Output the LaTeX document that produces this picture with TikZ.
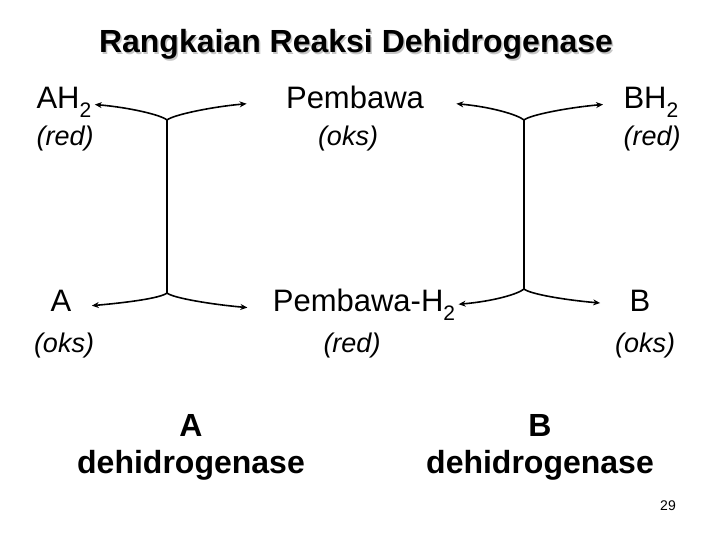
\documentclass[tikz,border=0pt]{standalone}
\usepackage{fontspec}
\setmainfont{Liberation Sans}
\usepackage{tikz}
\usetikzlibrary{arrows.meta}

\newcommand{\lowtwo}{\raisebox{-9bp}{\fontsize{21bp}{21bp}\selectfont 2}}

\begin{document}
\begin{tikzpicture}[
  x=1bp, y=-1bp,
  font=\fontsize{31bp}{36bp}\selectfont,
  chem/.style={anchor=base},
  redoks/.style={anchor=base, font=\fontsize{27bp}{32bp}\selectfont\itshape},
  enzyme/.style={align=center, font=\fontsize{32bp}{37bp}\selectfont\bfseries},
  heading/.style={anchor=base, font=\fontsize{32bp}{38bp}\selectfont\bfseries},
  link/.style={line width=1.6bp},
  arrow/.style={-{Stealth[length=7bp, width=6bp]}, line width=1.6bp},
  branch/.style={out distance=8bp, in distance=35bp}
]
\useasboundingbox (0,0) rectangle (720,540);

% title with its shadow
\node[heading, text=gray!45] (titleshadow) at (357.5,54.5) {Rangkaian Reaksi Dehidrogenase};
\node[heading] (title) at (356,53) {Rangkaian Reaksi Dehidrogenase};

% upper row
\node[chem, anchor=base west] (ah2) at (33,108.5) {AH\lowtwo};
\node[redoks, anchor=base west] (ah2red) at (33,146) {(red)};
\node[chem] (pembawa) at (355,108.5) {Pembawa};
\node[redoks] (pembawaoks) at (348,146) {(oks)};
\node[chem, anchor=base west] (bh2) at (620,108.5) {BH\lowtwo};
\node[redoks, anchor=base west] (bh2red) at (620,146) {(red)};

% lower row
\node[chem] (a) at (61,311) {A};
\node[redoks] (aoks) at (64,352) {(oks)};
\node[chem] (pembawah2) at (364,311) {Pembawa-H\lowtwo};
\node[redoks] (pembawah2red) at (352,352) {(red)};
\node[chem] (b) at (640,311) {B};
\node[redoks] (boks) at (645,352) {(oks)};

% enzymes
\node[enzyme] (adh) at (191,447.4) {A\\dehidrogenase};
\node[enzyme] (bdh) at (540,447.4) {B\\dehidrogenase};

\node[anchor=base, font=\fontsize{14bp}{16bp}\selectfont] (page) at (668,510) {29};

% junctions
\coordinate (jlt) at (167,120);
\coordinate (jlb) at (167,293);
\coordinate (jrt) at (524,120);
\coordinate (jrb) at (524,289);

\draw[link] (jlt) -- (jlb);
\draw[link] (jrt) -- (jrb);

\draw[arrow] (jlt) to[branch, out=140, in=-5] (ah2.-4);
\draw[arrow] (jlt) to[branch, out=40, in=185] ([xshift=-36bp]pembawa.185);
\draw[arrow] (jrt) to[branch, out=140, in=-5] ([xshift=29bp]pembawa.-5);
\draw[arrow] (jrt) to[branch, out=40, in=185] ([xshift=-17bp]bh2.184);

\draw[arrow] (jlb) to[branch, out=220, in=5] ([xshift=17bp]a.-21);
\draw[arrow] (jlb) to[branch, out=-40, in=175] ([xshift=-22bp]pembawah2.182);
\draw[arrow] (jrb) to[branch, out=220, in=5] (pembawah2.east);
\draw[arrow] (jrb) to[branch, out=-40, in=175] ([xshift=-26bp]b.191);
\end{tikzpicture}
\end{document}
